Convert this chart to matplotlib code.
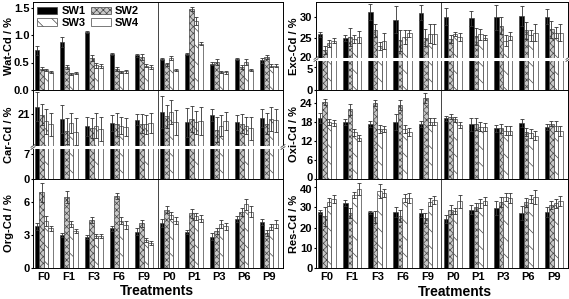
import numpy as np
import matplotlib
matplotlib.use('Agg')
import matplotlib.pyplot as plt
from matplotlib.transforms import ScaledTranslation

plt.rcParams['font.family'] = ['Liberation Sans', 'DejaVu Sans']
plt.rcParams['font.weight'] = 'bold'
plt.rcParams['hatch.linewidth'] = 0.5

treatments = ['F0', 'F1', 'F3', 'F6', 'F9', 'P0', 'P1', 'P3', 'P6', 'P9']
series = ['SW1', 'SW2', 'SW3', 'SW4']

# rows: SW1, SW2, SW3, SW4 ; columns: treatments
wat_vals = [[0.72, 0.88, 1.05, 0.66, 0.63, 0.56, 0.65, 0.48, 0.57, 0.54],
            [0.39, 0.42, 0.58, 0.38, 0.60, 0.47, 1.47, 0.51, 0.42, 0.60],
            [0.36, 0.29, 0.45, 0.33, 0.44, 0.58, 1.26, 0.33, 0.51, 0.44],
            [0.33, 0.31, 0.44, 0.34, 0.42, 0.37, 0.84, 0.32, 0.37, 0.44]]
wat_err = [[0.08, 0.09, 0.02, 0.02, 0.03, 0.02, 0.02, 0.03, 0.02, 0.04],
           [0.03, 0.03, 0.05, 0.03, 0.05, 0.03, 0.04, 0.05, 0.04, 0.04],
           [0.02, 0.02, 0.05, 0.02, 0.03, 0.04, 0.07, 0.02, 0.05, 0.03],
           [0.02, 0.02, 0.04, 0.03, 0.04, 0.02, 0.03, 0.02, 0.02, 0.03]]

exc_vals = [[25.9, 25.0, 31.2, 29.4, 31.0, 30.1, 29.7, 30.0, 30.2, 30.1],
            [22.1, 25.2, 26.8, 24.5, 25.1, 24.7, 25.4, 27.9, 26.8, 27.1],
            [23.7, 24.7, 23.1, 25.2, 26.0, 26.0, 25.9, 24.4, 25.6, 26.3],
            [24.4, 25.3, 24.3, 26.1, 26.0, 25.2, 25.1, 25.5, 26.3, 26.3]]
exc_err = [[0.6, 0.7, 2.0, 3.3, 1.8, 2.0, 1.8, 3.0, 2.4, 1.8],
           [0.9, 2.2, 1.6, 2.5, 2.0, 1.0, 2.0, 2.0, 2.0, 2.0],
           [0.9, 1.0, 1.0, 1.6, 2.3, 0.5, 1.3, 1.2, 1.3, 1.4],
           [0.7, 1.4, 2.0, 0.8, 2.4, 1.0, 0.6, 1.0, 2.0, 2.0]]

car_vals = [[22.1, 20.2, 19.1, 19.6, 20.1, 21.25, 19.7, 20.85, 19.7, 20.35],
            [20.85, 18.4, 18.9, 19.4, 19.5, 20.6, 20.2, 18.6, 19.5, 19.5],
            [19.9, 19.6, 19.2, 19.2, 19.4, 21.25, 19.7, 19.2, 19.2, 20.2],
            [19.4, 18.3, 18.7, 19.0, 19.6, 19.7, 19.9, 19.9, 18.8, 20.0]]
car_err = [[2.2, 2.1, 1.4, 1.2, 0.8, 2.4, 2.2, 0.9, 1.1, 1.4],
           [1.6, 1.9, 1.5, 1.7, 1.4, 1.8, 2.0, 1.9, 1.4, 1.6],
           [1.9, 1.5, 1.9, 1.3, 1.4, 1.8, 1.8, 1.6, 1.3, 1.8],
           [1.7, 2.0, 1.8, 1.4, 1.5, 1.9, 2.1, 1.3, 1.7, 1.8]]

oxi_vals = [[19.2, 17.9, 17.4, 18.1, 17.4, 19.2, 17.3, 16.0, 17.6, 16.5],
            [24.4, 22.0, 24.1, 23.4, 25.5, 19.7, 17.4, 16.0, 14.9, 17.4],
            [18.1, 14.7, 15.8, 15.7, 18.1, 18.8, 16.5, 15.3, 14.4, 16.7],
            [17.6, 13.05, 15.8, 14.9, 18.1, 17.1, 16.5, 15.3, 13.6, 15.2]]
oxi_err = [[1.5, 1.0, 1.0, 2.5, 1.0, 0.8, 2.0, 1.2, 1.2, 1.0],
           [0.9, 1.7, 1.0, 1.5, 1.5, 0.7, 1.8, 1.4, 1.2, 0.8],
           [1.0, 1.2, 1.2, 1.3, 1.2, 0.8, 1.4, 1.3, 1.3, 1.5],
           [1.0, 1.0, 1.0, 1.2, 1.2, 1.0, 1.2, 1.5, 1.4, 1.5]]

org_vals = [[3.8, 3.0, 2.8, 3.6, 3.3, 4.1, 3.25, 2.85, 4.45, 4.2],
            [6.9, 6.5, 4.36, 6.55, 4.06, 5.3, 4.97, 3.36, 5.1, 3.2],
            [4.3, 4.0, 2.9, 4.3, 2.55, 4.8, 4.7, 4.0, 5.8, 3.75],
            [3.6, 3.35, 2.9, 3.9, 2.25, 4.3, 4.5, 3.8, 5.1, 4.0]]
org_err = [[0.3, 0.2, 0.2, 0.2, 0.3, 0.4, 0.2, 0.3, 0.3, 0.3],
           [0.85, 0.55, 0.3, 0.3, 0.3, 0.3, 0.4, 0.3, 0.4, 0.3],
           [0.45, 0.3, 0.2, 0.3, 0.2, 0.3, 0.3, 0.4, 0.5, 0.3],
           [0.2, 0.2, 0.2, 0.35, 0.2, 0.3, 0.3, 0.3, 0.5, 0.4]]

res_vals = [[27.6, 32.1, 27.6, 27.6, 27.1, 24.4, 28.9, 29.5, 27.1, 27.9],
            [25.5, 27.1, 25.2, 25.6, 24.8, 28.9, 30.0, 32.7, 32.4, 31.3],
            [32.7, 36.0, 38.1, 34.8, 32.7, 28.1, 31.9, 35.3, 34.0, 31.9],
            [34.0, 39.2, 37.3, 34.8, 33.5, 32.9, 32.9, 34.5, 35.2, 33.2]]
res_err = [[1.0, 1.5, 0.8, 2.5, 2.0, 2.0, 2.0, 3.5, 3.5, 2.5],
           [4.5, 2.5, 3.0, 3.0, 2.5, 2.0, 2.0, 2.5, 2.0, 2.0],
           [2.0, 1.5, 3.5, 2.0, 2.0, 1.5, 2.0, 2.0, 2.0, 2.0],
           [2.0, 3.0, 2.0, 2.5, 2.0, 3.0, 2.0, 2.5, 3.5, 2.5]]

styles = [dict(facecolor='black', hatch=None),
          dict(facecolor='#c8c8c8', hatch='xxxxx'),
          dict(facecolor='white', hatch='\\\\'),
          dict(facecolor='white', hatch=None)]


def broken_scale(lo_top, hi_bot, hi_top, frac):
    xp = np.array([-1000.0, 0.0, lo_top, hi_bot, hi_top, hi_top + 1000.0])
    fp = np.array([-1000.0 * frac / lo_top, 0.0, frac, frac + 0.001, 1.0,
                   1.0 + 1000.0 * (1 - frac) / (hi_top - hi_bot)])

    def fwd(v):
        return np.interp(v, xp, fp)

    def inv(f):
        return np.interp(f, fp, xp)
    return fwd, inv


def nudge(ax, text, dy_pt):
    # small vertical shift of a crowded tick label
    for lab in ax.get_yticklabels():
        if lab.get_text() == text:
            lab.set_transform(lab.get_transform() +
                              ScaledTranslation(0, dy_pt / 72.0, fig.dpi_scale_trans))


def draw_panel(ax, vals, errs, ylabel, ylim, yticks, yticklabels, lab_x,
               bottom=False, brk=None):
    if brk is not None:
        ax.set_yscale('function', functions=broken_scale(*brk))
    x = np.arange(len(treatments))
    w = 0.18
    bars = []
    for i in range(4):
        b = ax.bar(x + (i - 1.5) * w, vals[i], w, yerr=errs[i],
                   facecolor=styles[i]['facecolor'], hatch=styles[i]['hatch'],
                   edgecolor='#444444', linewidth=0.5,
                   error_kw=dict(ecolor='#333333', elinewidth=0.6, capsize=1.3, capthick=0.6))
        bars.append(b)
    ax.set_xlim(-0.43, 9.57)
    ax.set_ylim(*ylim)
    ax.axvline(4.55, color='#444444', lw=0.7)
    ax.set_yticks(yticks)
    ax.set_yticklabels(yticklabels)
    ax.yaxis.set_minor_locator(matplotlib.ticker.NullLocator())
    ax.set_xticks(x)
    if bottom:
        ax.set_xticklabels(treatments, fontsize=8, fontweight='bold')
        ax.tick_params(axis='x', length=0, pad=3)
    else:
        ax.tick_params(axis='x', labelbottom=False, length=0)
    ax.tick_params(axis='y', labelsize=8, length=1.5, pad=1)
    ax.set_ylabel(ylabel, fontsize=8, fontweight='bold')
    ax.yaxis.set_label_coords(lab_x, 0.5)
    for s in ax.spines.values():
        s.set_linewidth(0.7)
    if brk is not None:
        f = brk[3]
        ax.plot([-0.02, 1.0], [f, f], transform=ax.transAxes, color='white',
                lw=2.2, zorder=6, clip_on=False)
        for xs in (0.0, 1.0):
            for d in (-0.012, 0.012):
                ax.plot([xs - 0.008, xs + 0.008], [f + d - 0.015, f + d + 0.015],
                        transform=ax.transAxes, color='#444444', lw=0.6,
                        zorder=7, clip_on=False)
    return bars


fig = plt.figure(figsize=(5.69, 2.99), dpi=100)
W, H = 569.0, 299.0
rows_px = [(2, 90), (90, 179), (179, 268)]
cols_px = [(33, 283), (316, 568)]
lab_left = -0.076
lab_right = -0.0675


def make_ax(r, c):
    x0, x1 = cols_px[c]
    y0, y1 = rows_px[r]
    return fig.add_axes([x0 / W, 1 - y1 / H, (x1 - x0) / W, (y1 - y0) / H])


ax = make_ax(0, 0)
bars = draw_panel(ax, wat_vals, wat_err, 'Wat-Cd / %', (0, 1.6), [0, 0.5, 1.0, 1.5],
                  ['0.0', '0.5', '1.0', '1.5'], lab_left)
order = [0, 2, 1, 3]
ax.legend([bars[i].patches[0] for i in order], [series[i] for i in order], ncol=2,
          loc='upper left', bbox_to_anchor=(0.0, 1.0), frameon=False,
          fontsize=8, handlelength=1.8, handleheight=0.7, borderaxespad=0.2,
          borderpad=0.2, columnspacing=0.5, handletextpad=0.35, labelspacing=0.15)

ax = make_ax(1, 0)
draw_panel(ax, car_vals, car_err, 'Car-Cd / %', (0, 24.6), [0, 7, 21], ['0', '7', '21'],
           lab_left, brk=(9.0, 16.0, 24.6, 0.36))

ax = make_ax(2, 0)
draw_panel(ax, org_vals, org_err, 'Org-Cd / %', (0, 8.1), [0, 3, 6], ['0', '3', '6'],
           lab_left, bottom=True)

ax = make_ax(0, 1)
draw_panel(ax, exc_vals, exc_err, 'Exc-Cd / %', (0, 33.6), [0, 5, 20, 25, 30],
           ['0', '5', '20', '25', '30'], lab_right, brk=(6.8, 20.0, 33.6, 0.352))
nudge(ax, '20', 1.5)
nudge(ax, '5', -1.5)

ax = make_ax(1, 1)
draw_panel(ax, oxi_vals, oxi_err, 'Oxi-Cd / %', (0, 28.1), [0, 6, 12, 18, 24],
           ['0', '6', '12', '18', '24'], lab_right)
nudge(ax, '0', 1.5)

ax = make_ax(2, 1)
draw_panel(ax, res_vals, res_err, 'Res-Cd / %', (0, 44), [0, 10, 20, 30, 40],
           ['0', '10', '20', '30', '40'], lab_right, bottom=True)
nudge(ax, '40', -1.5)

fig.text(157 / W, 1 - 291 / H, 'Treatments', ha='center', va='center',
         fontsize=10, fontweight='bold')
fig.text(455 / W, 1 - 292 / H, 'Treatments', ha='center', va='center',
         fontsize=10, fontweight='bold')

fig.savefig('out.png', dpi=100)
